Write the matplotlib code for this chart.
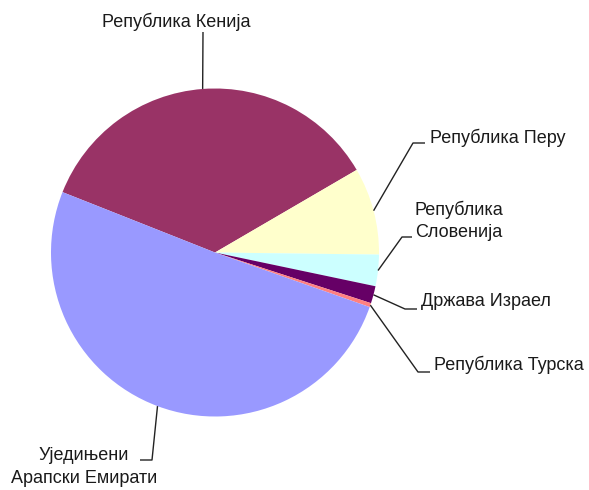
import numpy as np
import matplotlib.pyplot as plt
from matplotlib import font_manager

# slice data (percent), clockwise from the upper left
countries = ['Република Кенија', 'Република Перу', 'Република\nСловенија',
             'Држава Израел', 'Република Турска', 'Уједињени\nАрапски Емирати']
shares = [35.6, 8.6, 3.1, 1.7, 0.4, 50.6]
colors = ['#993366', '#FFFFCC', '#CCFFFF', '#660066', '#FF8080', '#9999FF']

names = {f.name for f in font_manager.fontManager.ttflist}
family = ['Liberation Sans Narrow', 'Liberation Sans'] if 'Liberation Sans Narrow' in names else ['Liberation Sans']

W, H = 589, 490
fig = plt.figure(figsize=(W / 100, H / 100), dpi=100)
ax = fig.add_axes([0, 0, 1, 1])

cx, cy, r = 215, H - 252.5, 164
wedges, _ = ax.pie(shares, colors=colors, startangle=158.4, counterclock=False,
                   center=(cx, cy), radius=r, frame=True,
                   wedgeprops=dict(linewidth=0))
ax.set_xlim(0, W)
ax.set_ylim(0, H)
ax.set_aspect('equal')
ax.axis('off')

# leader elbows, line ends and label anchors (pixels from top-left)
leaders = [
    dict(elbow=(203, 32), end=(203, 32), text=(176, 22), ha='center'),
    dict(elbow=(413, 143), end=(425, 143), text=(430, 138), ha='left'),
    dict(elbow=(402, 237), end=(412, 237), text=(415, 221), ha='left'),
    dict(elbow=(405, 309), end=(417, 309), text=(421, 302), ha='left'),
    dict(elbow=(418, 372), end=(430, 372), text=(434, 365), ha='left'),
    dict(elbow=(152, 460), end=(140, 460), text=(84, 467), ha='center'),
]

for w, name, ld in zip(wedges, countries, leaders):
    mid = np.deg2rad((w.theta1 + w.theta2) / 2)
    x0, y0 = cx + r * np.cos(mid), cy + r * np.sin(mid)
    xs = [x0, ld['elbow'][0], ld['end'][0]]
    ys = [y0, H - ld['elbow'][1], H - ld['end'][1]]
    ax.plot(xs, ys, color='#222222', linewidth=1.0, solid_capstyle='butt')
    ax.text(ld['text'][0], H - ld['text'][1], name, ha=ld['ha'], va='center',
            fontsize=13, family=family, color='#1a1a1a', linespacing=1.4,
            multialignment='center' if ld['ha'] == 'center' else 'left')

fig.savefig('out.png', dpi=100)
